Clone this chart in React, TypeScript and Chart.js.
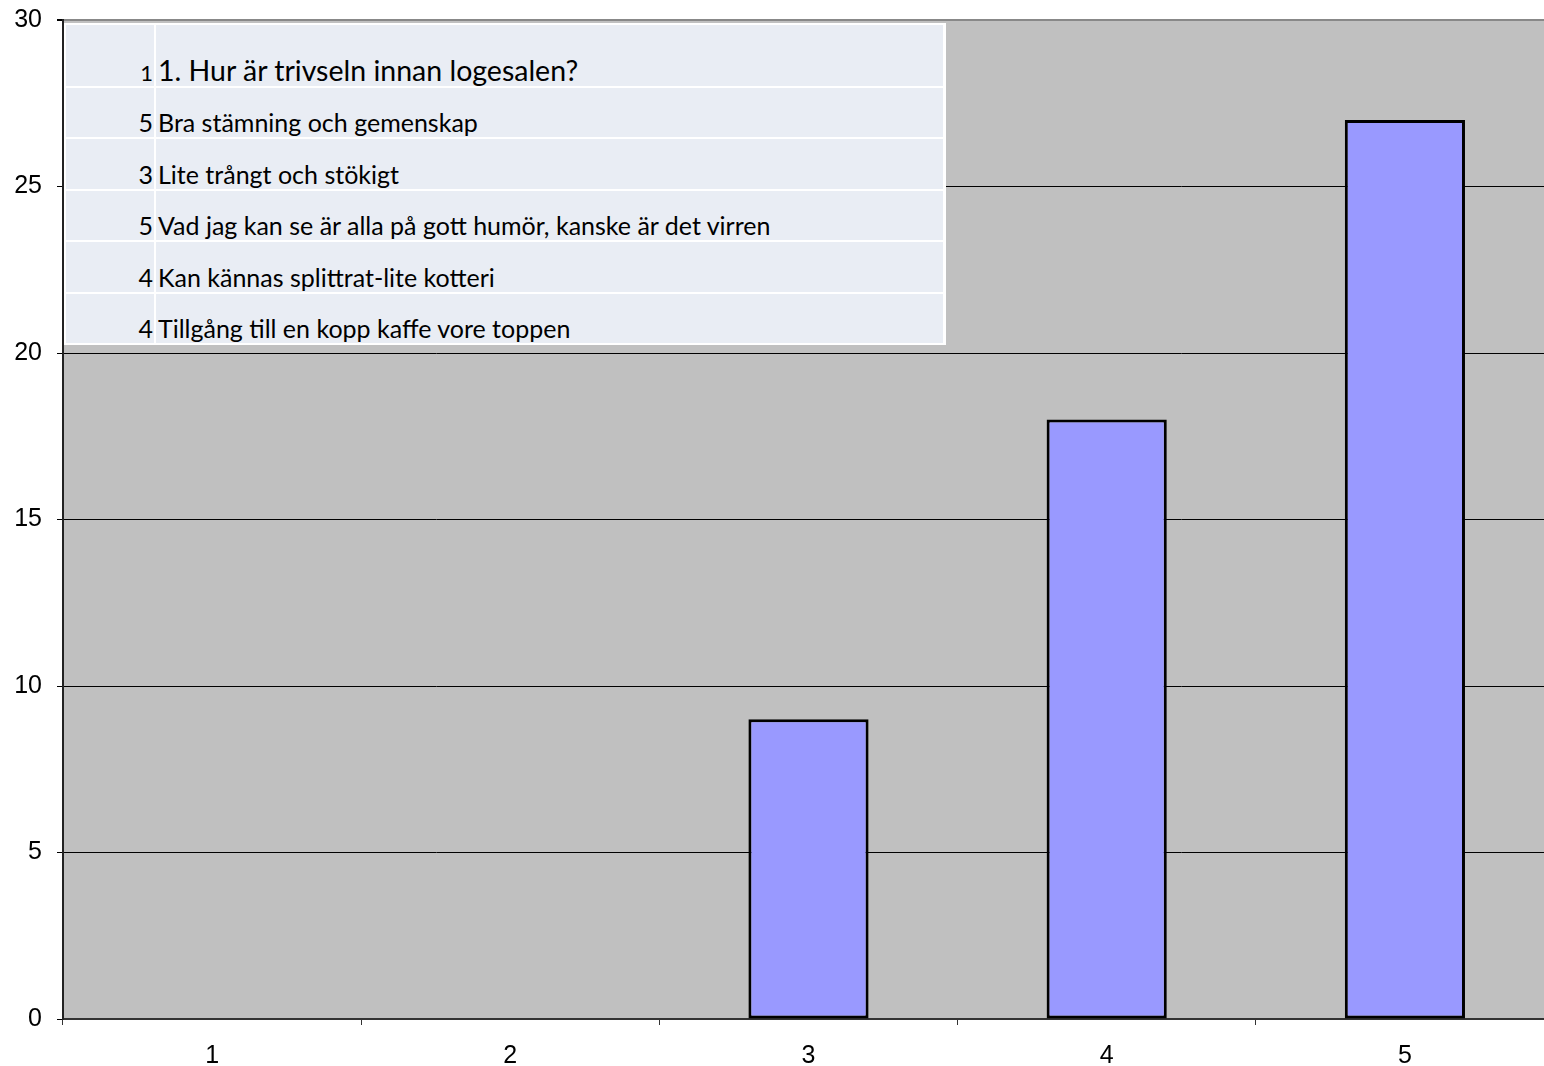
import React, { useEffect, useRef } from "react";
import { Chart, registerables } from "chart.js";

Chart.register(...registerables);

const categories = ["1", "2", "3", "4", "5"];
const counts = [0, 0, 9, 18, 27];
const yTicks = [0, 5, 10, 15, 20, 25, 30];
const tableNumbers = ["1", "5", "3", "5", "4", "4"];
const tableTexts = [
  "1. Hur är trivseln innan logesalen?",
  "Bra stämning och gemenskap",
  "Lite trångt och stökigt",
  "Vad jag kan se är alla på gott humör, kanske är det virren",
  "Kan kännas splittrat-lite kotteri",
  "Tillgång till en kopp kaffe vore toppen",
];

const ROW_TOPS = [25, 88, 139, 191, 242, 294];
const ROW_BOTTOMS = [86, 137, 189, 240, 292, 343];

const bgPlugin = {
  id: "plotBg",
  beforeDraw(chart: any) {
    const { ctx, chartArea } = chart;
    const { left, top, right, bottom } = chartArea;
    ctx.save();
    ctx.fillStyle = "#C0C0C0";
    ctx.fillRect(left, top, right - left, bottom - top);
    ctx.restore();
  },
};

export default function App() {
  const ref = useRef<HTMLCanvasElement | null>(null);

  useEffect(() => {
    if (!ref.current) return;
    const chart = new Chart(ref.current, {
      type: "bar",
      data: {
        labels: categories,
        datasets: [
          {
            data: counts,
            backgroundColor: "#9999FF",
            borderColor: "#000000",
            borderWidth: 3,
            borderSkipped: false,
            categoryPercentage: 1,
            barPercentage: 0.403,
          },
        ],
      },
      options: {
        responsive: false,
        animation: false,
        layout: { padding: { top: 20, right: 0, left: 0, bottom: 0 } },
        plugins: { legend: { display: false }, tooltip: { enabled: false } },
        scales: {
          x: {
            grid: {
              drawOnChartArea: false,
              drawTicks: true,
              tickLength: 6,
              tickColor: "#333",
              offset: true,
            },
            border: { color: "#333", width: 2 },
            ticks: {
              color: "#000",
              padding: 16,
              font: { family: "'Liberation Sans', Arial, sans-serif", size: 25 },
            },
            afterFit(s: any) {
              s.height = 47;
              s.paddingLeft = 0;
              s.paddingRight = 0;
            },
          },
          y: {
            min: yTicks[0],
            max: yTicks[yTicks.length - 1],
            afterBuildTicks(s: any) {
              s.ticks = yTicks.map((v) => ({ value: v }));
            },
            grid: {
              color: (c: any) => (c.tick && c.tick.value === 30 ? "#888" : "#000"),
              lineWidth: (c: any) => (c.tick && c.tick.value === 30 ? 2 : 1),
              tickLength: 6,
              tickColor: "#000",
            },
            border: { color: "#222", width: 2 },
            ticks: {
              color: "#000",
              padding: 15,
              font: { family: "'Liberation Sans', Arial, sans-serif", size: 25 },
            },
            afterFit(s: any) {
              s.width = 63;
              s.paddingTop = 0;
              s.paddingBottom = 0;
            },
          },
        },
      },
      plugins: [bgPlugin],
    });
    return () => chart.destroy();
  }, []);

  return (
    <div
      style={{
        position: "fixed",
        left: 0,
        top: 0,
        width: 1544,
        height: 1066,
        overflow: "hidden",
        background: "#fff",
      }}
    >
      <canvas ref={ref} width={1554} height={1066} style={{ display: "block" }} />
      <div
        style={{
          position: "absolute",
          left: 64,
          top: 23,
          width: 882,
          height: 322,
          background: "#fff",
        }}
      >
        {tableTexts.map((t, i) => {
          const h = ROW_BOTTOMS[i] - ROW_TOPS[i];
          const big = i === 0;
          return (
            <React.Fragment key={i}>
              <div
                style={{
                  position: "absolute",
                  left: 2,
                  top: ROW_TOPS[i] - 23,
                  width: 88,
                  height: h,
                  background: "#E9EDF4",
                  display: "flex",
                  alignItems: "flex-end",
                  justifyContent: "flex-end",
                  boxSizing: "border-box",
                  paddingBottom: 2,
                  paddingRight: 1,
                  fontFamily: "Lato, 'Open Sans', sans-serif",
                  fontSize: big ? 22 : 25,
                  lineHeight: 1,
                  color: "#000",
                }}
              >
                {tableNumbers[i]}
              </div>
              <div
                style={{
                  position: "absolute",
                  left: 92,
                  top: ROW_TOPS[i] - 23,
                  width: 787,
                  height: h,
                  background: "#E9EDF4",
                  display: "flex",
                  alignItems: "flex-end",
                  justifyContent: "flex-start",
                  boxSizing: "border-box",
                  paddingBottom: 2,
                  paddingLeft: 2,
                  fontFamily: "Lato, 'Open Sans', sans-serif",
                  fontSize: big ? 28.5 : 25,
                  lineHeight: 1,
                  color: "#000",
                  whiteSpace: "nowrap",
                }}
              >
                {t}
              </div>
            </React.Fragment>
          );
        })}
      </div>
    </div>
  );
}
